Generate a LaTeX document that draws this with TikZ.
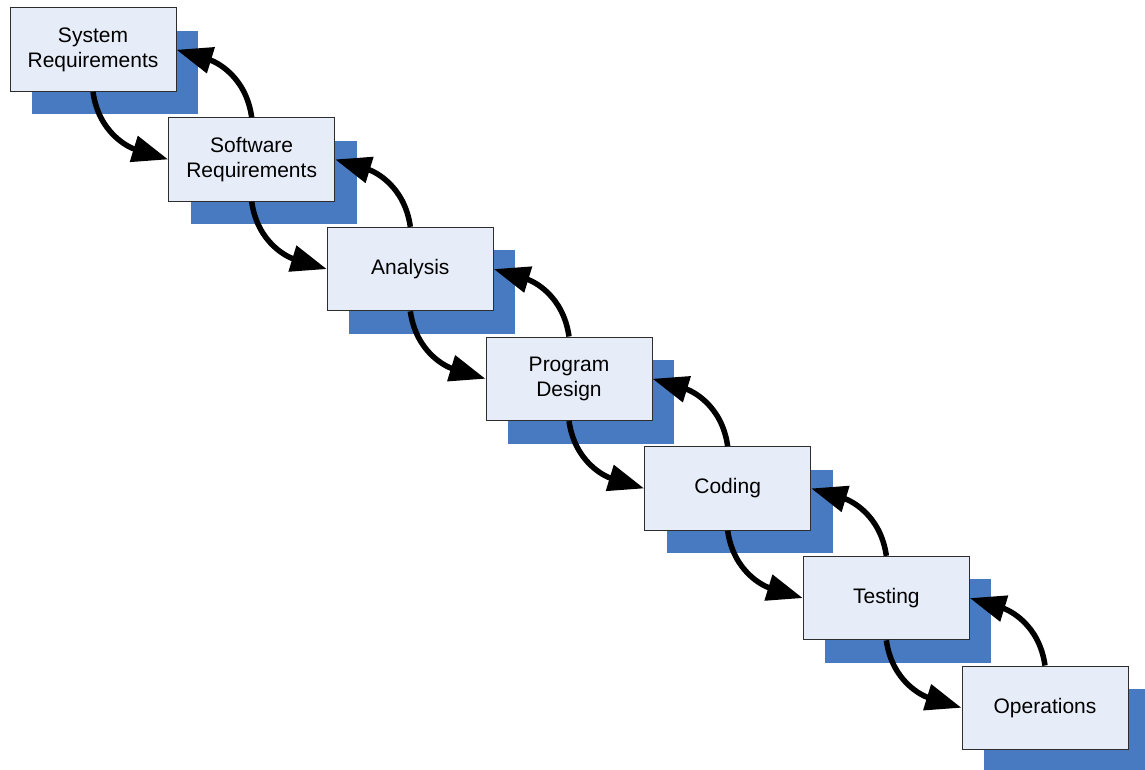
\documentclass[tikz,border=0pt]{standalone}
\usepackage{fontspec}
\setmainfont{Liberation Sans}
\usetikzlibrary{arrows.meta,shadows}
\definecolor{boxfill}{RGB}{231,237,248}
\definecolor{shadowblue}{RGB}{72,122,193}
\definecolor{boxline}{RGB}{45,45,45}
\begin{document}
\begin{tikzpicture}[x=1pt,y=1pt,
  phase/.style={rectangle, draw=boxline, line width=1pt, fill=boxfill,
    minimum width=166pt, minimum height=83.5pt, inner sep=0pt, align=center,
    font=\fontsize{21}{25}\selectfont,
    general shadow={fill=shadowblue, draw=none, shadow xshift=22pt, shadow yshift=-23pt}},
  flow/.style={line width=5.5pt, -{Triangle[length=36pt,width=26pt]}}]
\useasboundingbox (0,0) rectangle (1145,-770);
\node[phase] (b1) at (93.00,-49.75)  {System\\Requirements};
\node[phase] (b2) at (251.67,-159.42) {Software\\Requirements};
\node[phase] (b3) at (410.33,-269.08) {Analysis};
\node[phase] (b4) at (569.00,-378.75) {Program\\Design};
\node[phase] (b5) at (727.67,-488.42) {Coding};
\node[phase] (b6) at (886.33,-598.08) {Testing};
\node[phase] (b7) at (1045.00,-707.75) {Operations};
\foreach \a/\b in {b1/b2,b2/b3,b3/b4,b4/b5,b5/b6,b6/b7}{
  \draw[flow] (\a.south) to[out=-82,in=163,looseness=1.05] (\b.west);
  \draw[flow] (\b.north) to[out=98,in=-17,looseness=1.05] (\a.east);
}
\end{tikzpicture}
\end{document}
